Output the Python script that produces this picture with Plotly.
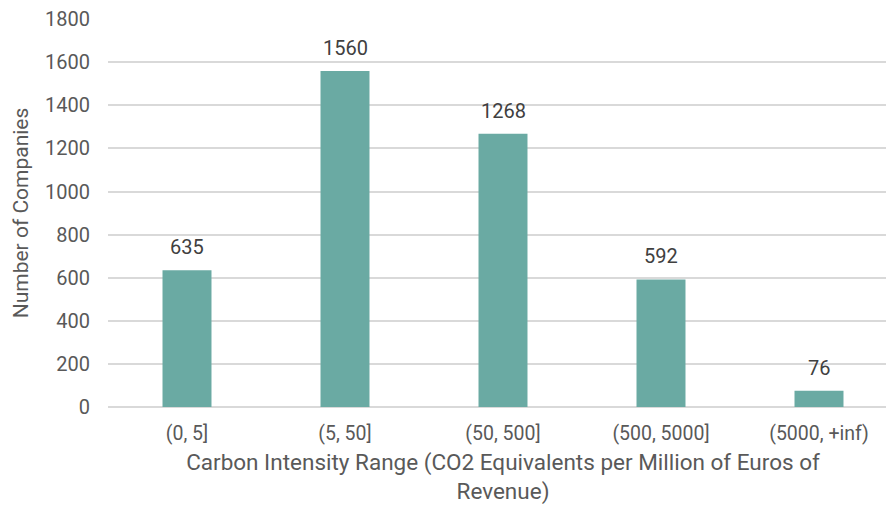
import plotly.graph_objects as go

categories = ["(0, 5]", "(5, 50]", "(50, 500]", "(500, 5000]", "(5000, +inf)"]
counts = [635, 1560, 1268, 592, 76]
y_ticks = [0, 200, 400, 600, 800, 1000, 1200, 1400, 1600, 1800]

fig = go.Figure(go.Bar(
    x=categories, y=counts,
    marker=dict(color="#6aaaa3", line=dict(width=0)),
    cliponaxis=False,
))

for c, v in zip(categories, counts):
    fig.add_annotation(x=c, y=v, text=str(v), showarrow=False,
                       yanchor="middle", yshift=23,
                       font=dict(family="Roboto", size=20, color="#404040"))

fig.update_layout(
    width=894, height=506,
    margin=dict(l=100, r=4, t=11, b=107),
    plot_bgcolor="white", paper_bgcolor="white",
    bargap=0.69,
    font=dict(family="Roboto", color="#595959", size=20),
    showlegend=False,
    xaxis=dict(
        title=dict(text="Carbon Intensity Range (CO2 Equivalents per Million of Euros of<br>Revenue)",
                   font=dict(size=22.5, color="#595959"), standoff=10),
        tickfont=dict(size=19.5, color="#595959"),
        showgrid=False, showline=False, ticks="", automargin=False,
        ticklabelstandoff=12,
    ),
    yaxis=dict(
        title=dict(text="Number of Companies", font=dict(size=21, color="#595959"), standoff=10),
        range=[0, 1801], tickvals=y_ticks,
        tickfont=dict(size=20, color="#595959"),
        showgrid=True, gridcolor="#d9d9d9", gridwidth=1.5,
        zeroline=True, zerolinecolor="#d9d9d9", zerolinewidth=1.5,
        ticks="", ticklabelstandoff=17, automargin=False,
        ticklabeloverflow="allow",
    ),
)

fig.write_html("out.html")
